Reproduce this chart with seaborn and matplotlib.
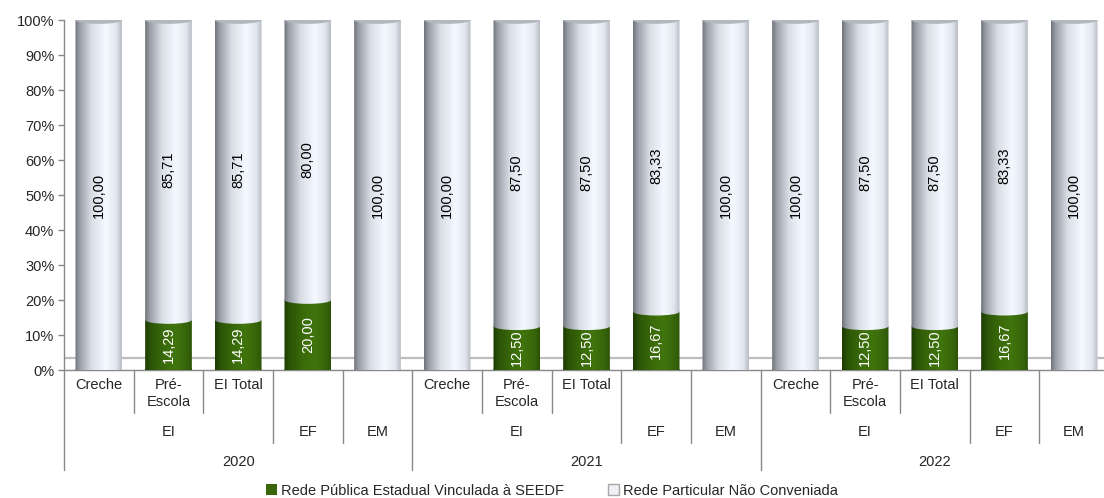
import numpy as np
import pandas as pd
import matplotlib
matplotlib.use('Agg')
import matplotlib.pyplot as plt
import seaborn as sns
from matplotlib.colors import LinearSegmentedColormap
from matplotlib.patches import Patch, Ellipse, PathPatch
from matplotlib.path import Path

# data
years = ['2020', '2021', '2022']
stages = ['EI', 'EI', 'EI', 'EF', 'EM']
sub_labels = ['Creche', 'Pré-\nEscola', 'EI Total', '', '']
publica = [0, 14.29, 14.29, 20.00, 0,
           0, 12.50, 12.50, 16.67, 0,
           0, 12.50, 12.50, 16.67, 0]
particular = [100.00, 85.71, 85.71, 80.00, 100.00,
              100.00, 87.50, 87.50, 83.33, 100.00,
              100.00, 87.50, 87.50, 83.33, 100.00]
series_names = ['Rede Pública Estadual Vinculada à SEEDF', 'Rede Particular Não Conveniada']
y_ticks = list(range(0, 101, 10))

df = pd.DataFrame({'pos': range(len(publica)), 'publica': publica, 'particular': particular})
df['total'] = df['publica'] + df['particular']

sns.set_style('white')
plt.rcParams['font.family'] = ['Liberation Sans', 'DejaVu Sans']

fig = plt.figure(figsize=(11.04, 4.98), dpi=100)
ax = fig.add_axes([64 / 1104, 128 / 498, 1045 / 1104, 350 / 498])

sns.barplot(data=df, x='pos', y='total', color='#e8ecf4', width=0.67, ax=ax, zorder=2)
sns.barplot(data=df, x='pos', y='publica', color='#386608', width=0.67, ax=ax, zorder=3)

n = len(df)
tot_bars = ax.patches[:n]
grn_bars = ax.patches[n:2 * n]

white_cm = LinearSegmentedColormap.from_list(
    'w', [(0, '#6e727a'), (0.1, '#9a9ea6'), (0.35, '#d8dce4'), (0.65, '#f4f8ff'),
          (0.88, '#e2e6ee'), (1, '#b8bcc4')])
green_cm = LinearSegmentedColormap.from_list(
    'g', [(0, '#1c3a02'), (0.12, '#2b5406'), (0.4, '#3a6a0a'), (0.65, '#40740c'),
          (0.9, '#36640a'), (1, '#2a5206')])
grad = np.linspace(0, 1, 256)[None, :]
eh = 2.2  # ellipse height in data units


def cylinder(x0, w, y0, y1, cmap, z):
    rect = Path.unit_rectangle()
    rect = Path(rect.vertices * [w, y1 - y0] + [x0, y0], rect.codes)
    ell = Path.unit_circle()
    ell = Path(ell.vertices * [w / 2, eh / 2] + [x0 + w / 2, y0], ell.codes)
    clip = PathPatch(Path.make_compound_path(rect, ell), transform=ax.transData)
    im = ax.imshow(grad, cmap=cmap, extent=[x0, x0 + w, y0 - eh, y1], aspect='auto',
                   zorder=z, interpolation='bilinear')
    im.set_clip_path(clip)


for tb, gb in zip(tot_bars, grn_bars):
    x0, w = tb.get_x(), tb.get_width()
    g, t = gb.get_height(), tb.get_height()
    tb.set_alpha(0)
    gb.set_alpha(0)
    if g > 0:
        cylinder(x0, w, 0, g, green_cm, 3)
        ax.text(x0 + w / 2, g / 2, f'{g:.2f}'.replace('.', ','), rotation=90,
                ha='center', va='center', color='white', fontsize=10.5, zorder=6)
    cylinder(x0, w, g, t, white_cm, 4)
    ax.add_patch(Ellipse((x0 + w / 2, t), w, eh, facecolor='#b3b7bf', edgecolor='none', zorder=5))
    ax.text(x0 + w / 2, (g + t) / 2, f'{t - g:.2f}'.replace('.', ','), rotation=90,
            ha='center', va='center', color='black', fontsize=10.5, zorder=6)

# floor of the 3d plot
ax.axhline(3.3, color='#bdbdbd', lw=1.6, zorder=1)

ax.set_xlim(-0.5, n - 0.5)
ax.set_ylim(0, 100)
ax.set_yticks(y_ticks)
ax.set_yticklabels([f'{v}%' for v in y_ticks], fontsize=10.5)
ax.tick_params(axis='y', length=4, width=1, color='#888888', pad=3, left=True)
ax.set_xticks([])
ax.set_xlabel('')
ax.set_ylabel('')
for s in ['top', 'right']:
    ax.spines[s].set_visible(False)
for s in ['left', 'bottom']:
    ax.spines[s].set_color('#888888')
    ax.spines[s].set_linewidth(1)

# hierarchical category axis
tr = ax.get_xaxis_transform()
sep_kw = dict(color='#888888', lw=1, transform=tr, clip_on=False)
depth = [-0.123, -0.209, -0.287]
for k in range(n + 1):
    b = k - 0.5
    j = k % 5
    if j == 0:
        d = depth[2]
    elif j in (3, 4):
        d = depth[1]
    else:
        d = depth[0]
    ax.plot([b, b], [0, d], **sep_kw)

for yi, yr in enumerate(years):
    base = yi * 5
    for j, lab in enumerate(sub_labels):
        if lab:
            ax.text(base + j, -0.022, lab, transform=tr, ha='center', va='top',
                    fontsize=10.5, linespacing=1.3)
    ax.text(base + 1, -0.177, stages[0], transform=tr, ha='center', va='center', fontsize=10.5)
    ax.text(base + 3, -0.177, stages[3], transform=tr, ha='center', va='center', fontsize=10.5)
    ax.text(base + 4, -0.177, stages[4], transform=tr, ha='center', va='center', fontsize=10.5)
    ax.text(base + 2, -0.263, yr, transform=tr, ha='center', va='center', fontsize=10.5)

handles = [Patch(facecolor='#386608', edgecolor='none', label=series_names[0]),
           Patch(facecolor='#eef0f5', edgecolor='#a8a8a8', label=series_names[1])]
fig.legend(handles=handles, loc='lower center', bbox_to_anchor=(0.5, -0.026), ncol=2,
           frameon=False, handlelength=0.75, handleheight=0.75, handletextpad=0.3,
           columnspacing=3.0, fontsize=10.5)

fig.savefig('out.png', dpi=100)
